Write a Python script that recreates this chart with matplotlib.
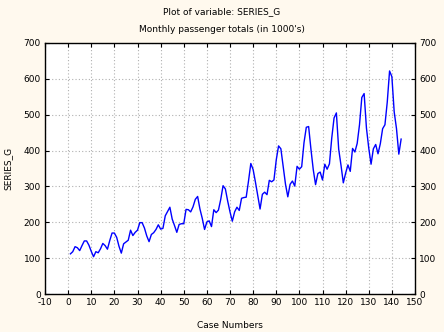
import numpy as np
import matplotlib
matplotlib.use("Agg")
import matplotlib.pyplot as plt

# Monthly passenger totals (in 1000's), 144 cases
series_g = [
    112, 118, 132, 129, 121, 135, 148, 148, 136, 119, 104, 118,
    115, 126, 141, 135, 125, 149, 170, 170, 158, 133, 114, 140,
    145, 150, 178, 163, 172, 178, 199, 199, 184, 162, 146, 166,
    171, 180, 193, 181, 183, 218, 230, 242, 209, 191, 172, 194,
    196, 196, 236, 235, 229, 243, 264, 272, 237, 211, 180, 201,
    204, 188, 235, 227, 234, 264, 302, 293, 259, 229, 203, 229,
    242, 233, 267, 269, 270, 315, 364, 347, 312, 274, 237, 278,
    284, 277, 317, 313, 318, 374, 413, 405, 355, 306, 271, 306,
    315, 301, 356, 348, 355, 422, 465, 467, 404, 347, 305, 336,
    340, 318, 362, 348, 363, 435, 491, 505, 404, 359, 310, 337,
    360, 342, 406, 396, 420, 472, 548, 559, 463, 407, 362, 405,
    417, 391, 419, 461, 472, 535, 622, 606, 508, 461, 390, 432,
]
case_numbers = np.arange(1, len(series_g) + 1)
x_ticks = list(range(-10, 151, 10))
y_ticks = list(range(0, 701, 100))

bg = "#FFF9EE"
plt.rcParams["font.family"] = "DejaVu Sans"
plt.rcParams["font.size"] = 6.5
plt.rcParams["axes.unicode_minus"] = False

fig = plt.figure(figsize=(4.44, 3.32), dpi=100, facecolor=bg)
ax = fig.add_axes([45 / 444, 1 - 294 / 332, 370 / 444, 251 / 332])
ax.set_facecolor("white")

ax.plot(case_numbers, series_g, color="#0000FF", lw=1.0)

ax.set_xlim(-10, 150)
ax.set_ylim(0, 700)
ax.set_xticks(x_ticks)
ax.set_yticks(y_ticks)
ax.grid(True, color="#B0B0B0", linestyle=(0, (1, 2)), lw=0.8)

ax.tick_params(direction="in", length=3, width=0.8, color="black",
               top=True, right=True, labelright=True, pad=3)
for s in ax.spines.values():
    s.set_linewidth(1.0)

ax.set_xlabel("Case Numbers", labelpad=10)
ax.set_ylabel("SERIES_G", labelpad=8)

fig.text(0.5, 1 - 12 / 332, "Plot of variable: SERIES_G", ha="center", va="center")
fig.text(0.5, 1 - 29 / 332, "Monthly passenger totals (in 1000's)", ha="center", va="center")

fig.savefig("out.png", dpi=100, facecolor=bg)
